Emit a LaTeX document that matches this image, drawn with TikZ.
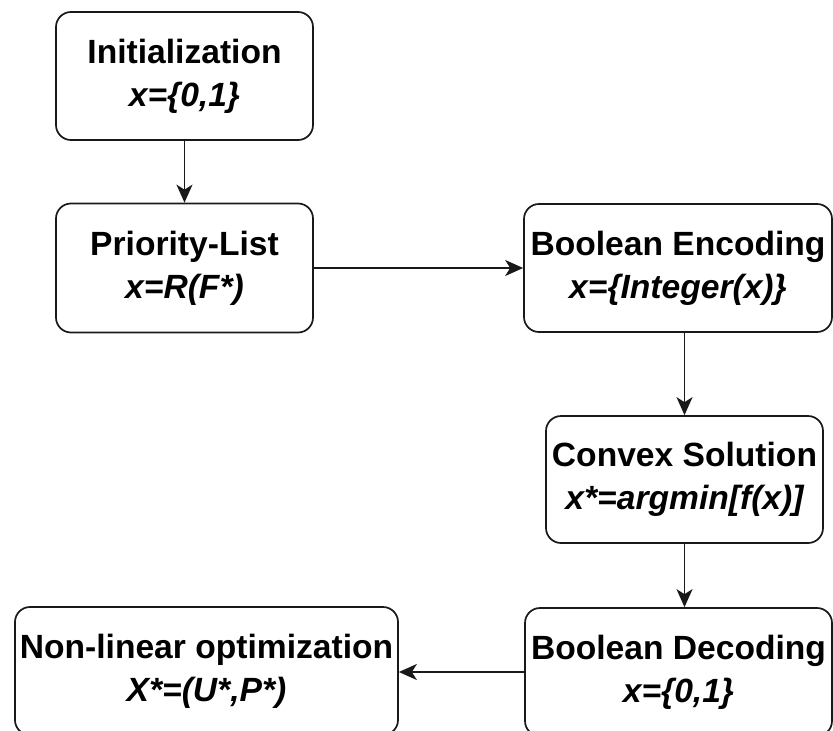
\documentclass[tikz,border=0pt]{standalone}
\usepackage{fontspec}
\setmainfont{Liberation Sans}
\usetikzlibrary{arrows.meta}
\begin{document}
\begin{tikzpicture}[x=1pt,y=-1pt,
  box/.style={draw=black!90, line width=1.7pt, rounded corners=15pt, inner sep=0pt,
    align=center, font=\fontsize{33.6}{43}\selectfont\bfseries},
  conn/.style={draw=black!90, line width=1.7pt, -{Stealth[length=18pt,width=16pt,inset=5pt]}}]
\useasboundingbox (0,0) rectangle (833,731);
\node[box, minimum width=257pt, minimum height=128pt] (b1) at (184.5,76) {Initialization\\\itshape x=\{0,1\}};
\node[box, minimum width=257pt, minimum height=129pt] (b2) at (184.5,268) {Priority-List\\\itshape x=R(F*)};
\node[box, minimum width=308pt, minimum height=128pt] (b3) at (678,268) {Boolean Encoding\\\itshape x=\{Integer(x)\}};
\node[box, minimum width=277pt, minimum height=127pt] (b4) at (684.5,479.5) {Convex Solution\\\itshape x*=argmin[f(x)]};
\node[box, minimum width=307pt, minimum height=128pt] (b5) at (678.5,672) {Boolean Decoding\\\itshape x=\{0,1\}};
\node[box, minimum width=383pt, minimum height=128pt] (b6) at (206.5,671) {Non-linear optimization\\\itshape X*=(U*,P*)};
\draw[conn] (b1) -- (b2);
\draw[conn] (b2) -- (b3);
\draw[conn] (b4.north |- b3.south) -- (b4.north);
\draw[conn] (b4.south) -- (b4.south |- b5.north);
\draw[conn] (b5.west) -- (b6.east |- b5.west);
\end{tikzpicture}
\end{document}
